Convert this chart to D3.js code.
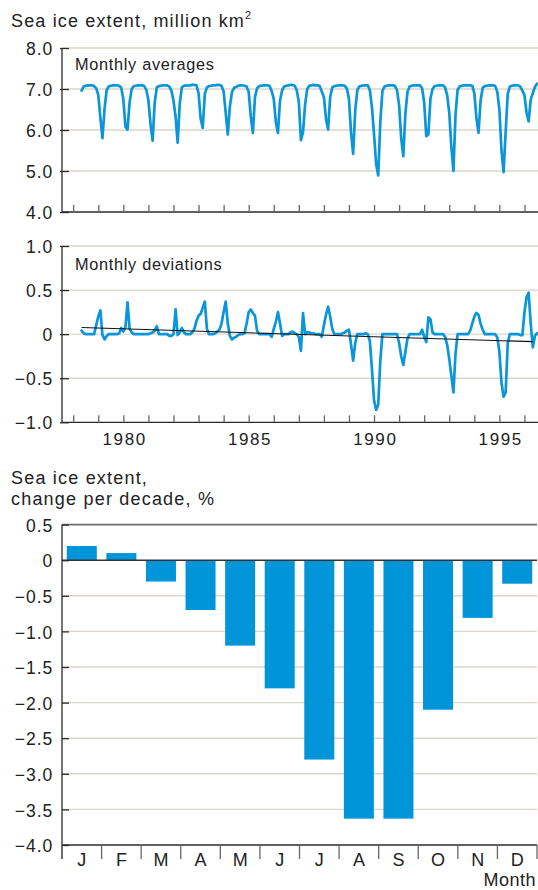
<!DOCTYPE html>
<html><head><meta charset="utf-8">
<script src="https://cdn.jsdelivr.net/npm/d3@7"></script>
<style>
html,body{margin:0;padding:0;background:#fff;}
svg{display:block;}
text{font-family:"Liberation Sans",Arial,Helvetica,sans-serif;fill:#222;}
</style></head><body>
<svg id="chart" width="538" height="890"></svg>
<script>
// ---------- DATA ----------
const startYear = 1978, startMonth = 11; // first monthly value: November 1978

// Monthly averages of sea ice extent (million km2), Nov 1978 .. Jan 1997
const extentMonthly = [
  6.96, 7.06,
  7.08, 7.09, 7.09, 7.09, 7.07, 7.02, 6.85, 6.30, 5.80, 6.52, 6.97, 7.06,
  7.08, 7.09, 7.09, 7.09, 7.08, 7.03, 6.75, 6.08, 6.01, 6.68, 7.00, 7.07,
  7.08, 7.09, 7.09, 7.09, 7.07, 6.98, 6.72, 6.15, 5.74, 6.66, 7.04, 7.07,
  7.08, 7.09, 7.09, 7.09, 7.06, 6.96, 6.72, 6.33, 5.69, 6.65, 7.04, 7.08,
  7.08, 7.09, 7.09, 7.10, 7.10, 7.09, 6.90, 6.28, 6.05, 6.88, 7.04, 7.07,
  7.08, 7.09, 7.09, 7.10, 7.10, 7.08, 6.94, 6.42, 5.89, 6.58, 6.93, 7.03,
  7.05, 7.08, 7.09, 7.09, 7.08, 7.06, 6.93, 6.33, 5.93, 6.80, 7.02, 7.07,
  7.08, 7.09, 7.09, 7.09, 7.07, 6.95, 6.76, 6.19, 5.93, 6.72, 6.97, 7.06,
  7.08, 7.09, 7.10, 7.10, 7.08, 6.97, 6.68, 5.75, 5.95, 6.62, 7.00, 7.08,
  7.09, 7.10, 7.09, 7.09, 7.07, 6.94, 6.80, 6.27, 6.01, 6.80, 7.04, 7.07,
  7.08, 7.09, 7.09, 7.09, 7.08, 7.01, 6.75, 5.93, 5.42, 6.48, 6.98, 7.06,
  7.08, 7.09, 7.09, 7.09, 6.97, 6.55, 5.90, 5.17, 4.89, 6.20, 6.95, 7.06,
  7.08, 7.09, 7.09, 7.09, 7.07, 6.97, 6.60, 5.80, 5.36, 6.40, 6.93, 7.06,
  7.08, 7.09, 7.09, 7.09, 7.09, 7.02, 6.67, 5.85, 5.89, 6.77, 7.00, 7.07,
  7.08, 7.09, 7.09, 7.09, 7.04, 6.85, 6.42, 5.58, 5.00, 6.38, 6.98, 7.06,
  7.08, 7.09, 7.09, 7.09, 7.09, 7.08, 6.90, 6.29, 5.93, 6.72, 7.03, 7.07,
  7.08, 7.09, 7.09, 7.09, 7.07, 6.93, 6.50, 5.50, 4.97, 5.95, 6.88, 7.06,
  7.08, 7.09, 7.09, 7.09, 7.06, 6.96, 6.85, 6.42, 6.21, 6.74, 6.90, 7.05,
  7.13
];

// Monthly deviations (million km2), Nov 1978 .. Jan 1997
const deviationMonthly = [
  0.04, 0.01,
  0.00, 0.00, 0.00, 0.00, 0.00, 0.10, 0.20, 0.27, -0.01, -0.06, -0.02, 0.00,
  0.00, 0.00, 0.00, 0.00, 0.01, 0.07, 0.03, 0.08, 0.36, 0.06, 0.02, 0.00,
  0.00, 0.00, 0.00, 0.00, 0.00, 0.00, 0.00, 0.01, 0.02, 0.04, 0.09, 0.00,
  0.00, 0.00, 0.00, 0.00, -0.02, -0.02, 0.00, 0.28, -0.01, 0.02, 0.07, 0.02,
  0.00, 0.00, 0.00, 0.02, 0.06, 0.15, 0.21, 0.23, 0.30, 0.37, 0.06, 0.00,
  0.00, 0.00, 0.01, 0.03, 0.05, 0.12, 0.25, 0.37, 0.12, -0.02, -0.06, -0.04,
  -0.03, -0.01, 0.00, 0.00, 0.01, 0.12, 0.25, 0.28, 0.24, 0.21, 0.04, 0.00,
  0.00, 0.00, 0.00, 0.00, 0.00, -0.03, 0.06, 0.14, 0.25, 0.12, -0.02, 0.00,
  0.00, 0.00, 0.02, 0.03, 0.01, 0.00, -0.03, -0.19, 0.24, 0.00, 0.02, 0.02,
  0.01, 0.01, 0.00, 0.00, 0.00, -0.03, 0.10, 0.22, 0.31, 0.20, 0.06, 0.00,
  0.00, 0.00, 0.00, 0.01, 0.02, 0.04, 0.05, -0.12, -0.30, -0.10, 0.00, 0.00,
  0.00, 0.00, 0.01, 0.00, -0.08, -0.40, -0.75, -0.86, -0.80, -0.30, 0.00, 0.00,
  0.00, 0.00, 0.00, 0.00, 0.00, 0.00, -0.10, -0.25, -0.35, -0.20, -0.05, 0.00,
  0.00, 0.00, 0.00, 0.00, 0.00, 0.05, -0.03, -0.09, 0.19, 0.17, 0.02, 0.00,
  0.00, 0.00, 0.00, 0.00, -0.03, -0.12, -0.28, -0.47, -0.66, -0.22, 0.00, 0.00,
  0.00, 0.00, 0.00, 0.00, 0.04, 0.12, 0.20, 0.24, 0.22, 0.12, 0.05, 0.00,
  0.00, 0.00, 0.00, 0.00, 0.00, -0.04, -0.20, -0.55, -0.71, -0.66, -0.10, 0.00,
  0.00, 0.00, 0.00, 0.00, -0.01, -0.01, 0.25, 0.42, 0.47, 0.12, -0.15, -0.02,
  0.01
];

// Linear trend of the deviations
const trendYears = [1978 + 10/12, 1996 + 10/12];
const trendValues = [0.075, -0.085];

const extentTicks = [4, 5, 6, 7, 8];
const extentTickLabels = ["4.0", "5.0", "6.0", "7.0", "8.0"];
const deviationTicks = [-1, -0.5, 0, 0.5, 1];
const deviationTickLabels = ["\u22121.0", "\u22120.5", "0", "0.5", "1.0"];
const tickYears = [1978,1979,1980,1981,1982,1983,1984,1985,1986,1987,1988,1989,1990,1991,1992,1993,1994,1995,1996];
const labelledYears = [1980, 1985, 1990, 1995];

const monthKeys = ["Jan","Feb","Mar","Apr","May","Jun","Jul","Aug","Sep","Oct","Nov","Dec"];
const monthLabels = ["J","F","M","A","M","J","J","A","S","O","N","D"];
const changePerDecade = [0.2, 0.1, -0.3, -0.7, -1.2, -1.8, -2.8, -3.63, -3.63, -2.1, -0.81, -0.33];
const changeTicks = [0.5, 0, -0.5, -1, -1.5, -2, -2.5, -3, -3.5, -4];
const changeTickLabels = ["0.5", "0", "\u22120.5", "\u22121.0", "\u22121.5", "\u22122.0", "\u22122.5", "\u22123.0", "\u22123.5", "\u22124.0"];

// ---------- DRAWING ----------
const svg = d3.select("#chart");
const BLUE = "#0a96d8", BAR = "#0095d8", GRID = "#ddd5c9", AXIS = "#2b2b2b", TICK = "#666";
const X0 = 62;

const toPoints = arr => arr.map((v, i) => {
  const tot = startMonth - 1 + i;
  return { t: startYear + Math.floor(tot / 12) + (tot % 12) / 12, v };
});

const xTime = d3.scaleLinear().domain([1978.053, 1997.04]).range([X0, 538]);
const yTop = d3.scaleLinear().domain([4, 8]).range([212, 48]);
const yMid = d3.scaleLinear().domain([-1, 1]).range([422.3, 246]);

function gridlines(g, scale, values, x1, x2, color, width) {
  g.selectAll(null).data(values).enter().append("line")
    .attr("x1", x1).attr("x2", x2)
    .attr("y1", d => scale(d)).attr("y2", d => scale(d))
    .attr("stroke", color).attr("stroke-width", width);
}

function yAxis(scale, values, labels, tickLeft) {
  const g = svg.append("g").attr("transform", `translate(${X0},0)`)
    .call(d3.axisLeft(scale).tickValues(values).tickFormat((d, i) => labels[values.indexOf(d)]).tickSize(0).tickPadding(9));
  g.select(".domain").remove();
  g.selectAll(".tick line").attr("x1", -tickLeft).attr("x2", 7).attr("stroke", AXIS).attr("stroke-width", 1.3);
  g.selectAll(".tick text").attr("x", -8.7).attr("dy", null).attr("y", 6.6)
    .attr("font-family", '"Liberation Sans", Arial, sans-serif')
    .style("font-size", "17.5px").style("letter-spacing", "1px").attr("fill", "#222");
  return g;
}

function vline(x, y1, y2, color, w) {
  svg.append("line").attr("x1", x).attr("x2", x).attr("y1", y1).attr("y2", y2)
    .attr("stroke", color).attr("stroke-width", w);
}
function hline(y, x1, x2, color, w) {
  svg.append("line").attr("x1", x1).attr("x2", x2).attr("y1", y).attr("y2", y)
    .attr("stroke", color).attr("stroke-width", w);
}

function yearAxis(yPos, withLabels) {
  const g = svg.append("g").attr("transform", `translate(0,${yPos})`)
    .call(d3.axisBottom(xTime).tickValues(tickYears.map(y => y + 0.5))
      .tickFormat(d => (withLabels && labelledYears.includes(Math.floor(d))) ? String(Math.floor(d)) : "")
      .tickSize(0).tickPadding(0));
  g.select(".domain").remove();
  g.selectAll(".tick line").attr("y1", 0).attr("y2", -7).attr("stroke", TICK).attr("stroke-width", 1.3);
  g.selectAll(".tick text").attr("y", 22.7).attr("dy", null).attr("dx", 0.8)
    .attr("font-family", '"Liberation Sans", Arial, sans-serif')
    .style("font-size", "17px").style("letter-spacing", "1.6px").attr("fill", "#222");
}

// ---- Titles ----
const t1 = svg.append("text").attr("x", 11).attr("y", 26.5)
  .style("font-size", "18px").style("letter-spacing", "1.15px");
t1.append("tspan").text("Sea ice extent, million km");
t1.append("tspan").attr("dy", -7.5).style("font-size", "11px").style("letter-spacing", "0px").text("2");

// ---- Panel 1: monthly averages ----
const p1 = svg.append("g");
gridlines(p1, yTop, [5, 6, 7, 8], X0, 538, GRID, 1.4);
svg.append("text").attr("x", 75).attr("y", 70).style("font-size", "16.3px").style("letter-spacing", "0.7px").text("Monthly averages");
svg.append("path").datum(toPoints(extentMonthly))
  .attr("fill", "none").attr("stroke", BLUE).attr("stroke-width", 2.7)
  .attr("stroke-linejoin", "round").attr("stroke-linecap", "round")
  .attr("d", d3.line().x(d => xTime(d.t)).y(d => yTop(d.v)));
yAxis(yTop, extentTicks, extentTickLabels, 2);
vline(X0, 48, 212, AXIS, 1.3);
hline(212, X0, 538, AXIS, 1.3);
yearAxis(212, false);

// ---- Panel 2: monthly deviations ----
const p2 = svg.append("g");
gridlines(p2, yMid, [-0.5, 0, 0.5, 1], X0, 538, GRID, 1.4);
svg.append("text").attr("x", 75).attr("y", 270).style("font-size", "16.3px").style("letter-spacing", "0.7px").text("Monthly deviations");
svg.append("path").datum(toPoints(deviationMonthly))
  .attr("fill", "none").attr("stroke", BLUE).attr("stroke-width", 2.7)
  .attr("stroke-linejoin", "round").attr("stroke-linecap", "round")
  .attr("d", d3.line().x(d => xTime(d.t)).y(d => yMid(d.v)));
svg.append("path").datum(trendYears.map((t, i) => ({ t, v: trendValues[i] })))
  .attr("fill", "none").attr("stroke", "#111").attr("stroke-width", 1.1)
  .attr("d", d3.line().x(d => xTime(d.t)).y(d => yMid(d.v)));
yAxis(yMid, deviationTicks, deviationTickLabels, 2);
vline(X0, 246, 422.3, AXIS, 1.3);
hline(422.3, X0, 538, AXIS, 1.3);
yearAxis(422.3, true);

// ---- Panel 3: change per decade ----
svg.append("text").attr("x", 11).attr("y", 484).style("font-size", "18px").style("letter-spacing", "1.2px").text("Sea ice extent,");
svg.append("text").attr("x", 11).attr("y", 504.5).style("font-size", "18px").style("letter-spacing", "1.2px").text("change per decade, %");

const xBand = d3.scaleBand().domain(monthKeys).range([X0, 537]).paddingInner(0.242).paddingOuter(0.121);
const yBar = d3.scaleLinear().domain([-4, 0.5]).range([845, 524.6]);
const p3 = svg.append("g");
gridlines(p3, yBar, [-0.5, -1, -1.5, -2, -2.5, -3, -3.5], X0, 537, GRID, 1.4);
p3.selectAll("rect").data(changePerDecade).enter().append("rect")
  .attr("x", (d, i) => xBand(monthKeys[i]))
  .attr("width", xBand.bandwidth())
  .attr("y", d => Math.min(yBar(d), yBar(0)))
  .attr("height", d => Math.abs(yBar(d) - yBar(0)))
  .attr("fill", BAR);
hline(yBar(0.5), X0, 537, "#6f6f6f", 1.8);
hline(yBar(0), X0, 537, "#333", 1.5);
const g3 = svg.append("g").attr("transform", `translate(${X0},0)`)
  .call(d3.axisLeft(yBar).tickValues(changeTicks).tickFormat(d => changeTickLabels[changeTicks.indexOf(d)]).tickSize(0).tickPadding(9));
g3.select(".domain").remove();
g3.selectAll(".tick line").attr("x1", 0).attr("x2", 7).attr("stroke", AXIS).attr("stroke-width", 1.3);
g3.selectAll(".tick text").attr("x", -8.7).attr("dy", null).attr("y", 6.6)
  .attr("font-family", '"Liberation Sans", Arial, sans-serif')
  .style("font-size", "17.5px").style("letter-spacing", "1px").attr("fill", "#222");
vline(X0, 524.6, 859, AXIS, 1.3);
hline(845, X0, 537, AXIS, 1.3);
// month separators at band boundaries
const step = xBand.step(), halfGap = (step - xBand.bandwidth()) / 2;
svg.selectAll(null).data(monthKeys.concat(["end"])).enter().append("line")
  .attr("x1", (d, i) => i < 12 ? xBand(d) - halfGap : xBand(monthKeys[11]) + xBand.bandwidth() + halfGap)
  .attr("x2", (d, i) => i < 12 ? xBand(d) - halfGap : xBand(monthKeys[11]) + xBand.bandwidth() + halfGap)
  .attr("y1", 845).attr("y2", 859).attr("stroke", TICK).attr("stroke-width", 1.3);
const gm = svg.append("g").attr("transform", "translate(0,845)")
  .call(d3.axisBottom(xBand).tickFormat((d) => monthLabels[monthKeys.indexOf(d)]).tickSize(0).tickPadding(0));
gm.select(".domain").remove();
gm.selectAll(".tick text").attr("y", 21).attr("dy", null)
  .attr("font-family", '"Liberation Sans", Arial, sans-serif')
  .style("font-size", "18px").attr("fill", "#222");
svg.append("text").attr("x", 536).attr("y", 885.5).attr("text-anchor", "end")
  .style("font-size", "18px").style("letter-spacing", "0.5px").text("Month");
</script>
</body></html>
